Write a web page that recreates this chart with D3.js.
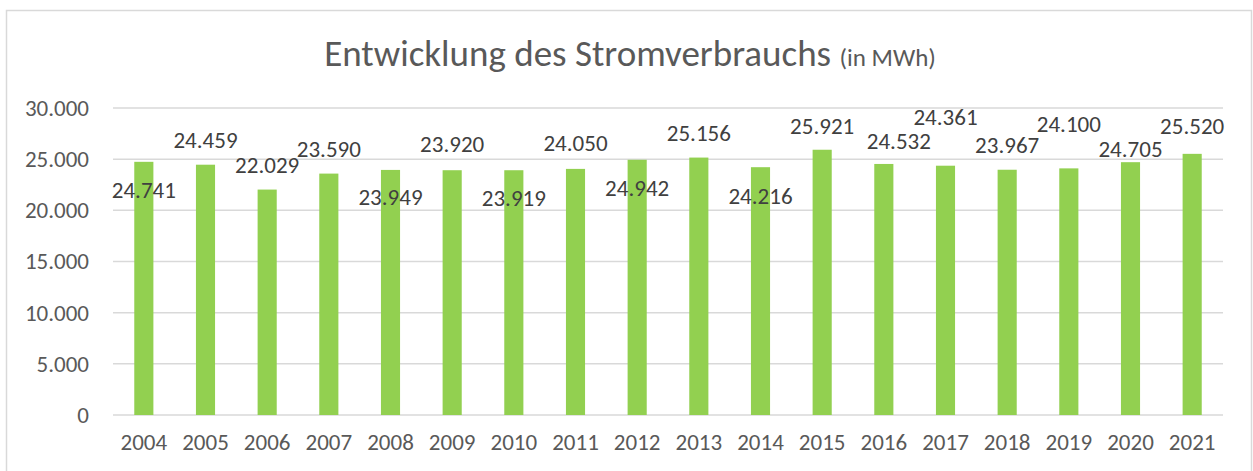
<!DOCTYPE html>
<html>
<head>
<meta charset="utf-8">
<script src="https://cdn.jsdelivr.net/npm/d3@7"></script>
<style>
  body { margin: 0; background: #fff; }
  text { font-family: Carlito, Calibri, Lato, sans-serif; }
</style>
</head>
<body>
<div id="chart"></div>
<script>
///////////////////////////////////////////////////////////////////////////
//////////////////////////////// Data /////////////////////////////////////
///////////////////////////////////////////////////////////////////////////

var years = ["2004","2005","2006","2007","2008","2009","2010","2011","2012",
             "2013","2014","2015","2016","2017","2018","2019","2020","2021"];
var consumption = [24741, 24459, 22029, 23590, 23949, 23920, 23919, 24050, 24942,
                   25156, 24216, 25921, 24532, 24361, 23967, 24100, 24705, 25520];
var yTicks = [0, 5000, 10000, 15000, 20000, 25000, 30000];

//hand placed label offsets (px from bar top / bar centre), like the original
var labelDy = [28, -25, -25, -25, 27, -26, 27, -26, 28, -25, 29, -24, -23, -49, -25, -45, -13, -28];
var labelDx = [0, 0, 0, 0, 0, 0, 0, 0, 0, 0, 0, 0, 15, 0, 0, 0, 0, 0];

///////////////////////////////////////////////////////////////////////////
//////////////////// Set up and initiate svg containers ///////////////////
///////////////////////////////////////////////////////////////////////////

var totalWidth = 1253,
    totalHeight = 471;

var margin = { top: 108, right: 30, bottom: 56, left: 113 };
var width = totalWidth - margin.left - margin.right,
    height = totalHeight - margin.top - margin.bottom;

var fontSize = "23px";

var root = d3.select("#chart")
    .append("svg")
    .attr("width", totalWidth)
    .attr("height", totalHeight);

//chart area outline
root.append("rect")
    .attr("x", 6.5).attr("y", 10.5)
    .attr("width", 1245).attr("height", 480)
    .style("fill", "none")
    .style("stroke", "#d9d9d9")
    .style("stroke-width", 1.5);

//Title
var title = root.append("text")
    .attr("x", 630)
    .attr("y", 66)
    .attr("text-anchor", "middle")
    .style("fill", "#595959");
title.append("tspan").style("font-size", "37px").text("Entwicklung des Stromverbrauchs ");
title.append("tspan").style("font-size", "25px").text("(in MWh)");

var svg = root.append("g")
    .attr("transform", "translate(" + margin.left + "," + margin.top + ")");

///////////////////////////////////////////////////////////////////////////
/////////////////////////////// Scales ////////////////////////////////////
///////////////////////////////////////////////////////////////////////////

var xScale = d3.scaleBand()
    .domain(years)
    .range([0, width])
    .paddingInner(0.69)
    .paddingOuter(0.345);

var yScale = d3.scaleLinear()
    .domain([0, 30000])
    .range([height, 0]);

var formatDE = d3.formatLocale({ decimal: ",", thousands: ".", grouping: [3], currency: ["", "€"] }).format(",d");

//Gridlines
svg.append("g")
    .selectAll("line")
    .data(yTicks)
    .enter().append("line")
    .attr("x1", 0)
    .attr("x2", width)
    .attr("y1", function(d) { return yScale(d); })
    .attr("y2", function(d) { return yScale(d); })
    .style("stroke", "#d9d9d9")
    .style("stroke-width", 1.5);

//Y axis
var yAxis = d3.axisLeft(yScale)
    .tickValues(yTicks)
    .tickSize(0)
    .tickPadding(24)
    .tickFormat(formatDE);

svg.append("g")
    .attr("class", "axis")
    .call(yAxis)
    .call(function(g) { g.select(".domain").remove(); })
    .selectAll("text")
    .style("font-size", fontSize)
    .style("font-family", "Carlito, Calibri, Lato, sans-serif")
    .style("fill", "#595959");

//X axis
var xAxis = d3.axisBottom(xScale)
    .tickSize(0)
    .tickPadding(19);

svg.append("g")
    .attr("class", "axis")
    .attr("transform", "translate(0," + height + ")")
    .call(xAxis)
    .call(function(g) { g.select(".domain").remove(); })
    .selectAll("text")
    .style("font-size", fontSize)
    .style("font-family", "Carlito, Calibri, Lato, sans-serif")
    .style("fill", "#595959");

///////////////////////////////////////////////////////////////////////////
/////////////////////////////// Bars //////////////////////////////////////
///////////////////////////////////////////////////////////////////////////

svg.append("g")
    .selectAll("rect")
    .data(consumption)
    .enter().append("rect")
    .attr("x", function(d, i) { return xScale(years[i]); })
    .attr("y", function(d) { return yScale(d); })
    .attr("width", xScale.bandwidth())
    .attr("height", function(d) { return height - yScale(d); })
    .style("fill", "#92d050");

//Data labels
svg.append("g")
    .selectAll("text")
    .data(consumption)
    .enter().append("text")
    .attr("x", function(d, i) { return xScale(years[i]) + xScale.bandwidth() / 2 + labelDx[i]; })
    .attr("y", function(d, i) { return yScale(d) + labelDy[i]; })
    .attr("dy", "0.36em")
    .attr("text-anchor", "middle")
    .style("font-size", fontSize)
    .style("fill", "#404040")
    .text(function(d) { return formatDE(d); });
</script>
</body>
</html>
